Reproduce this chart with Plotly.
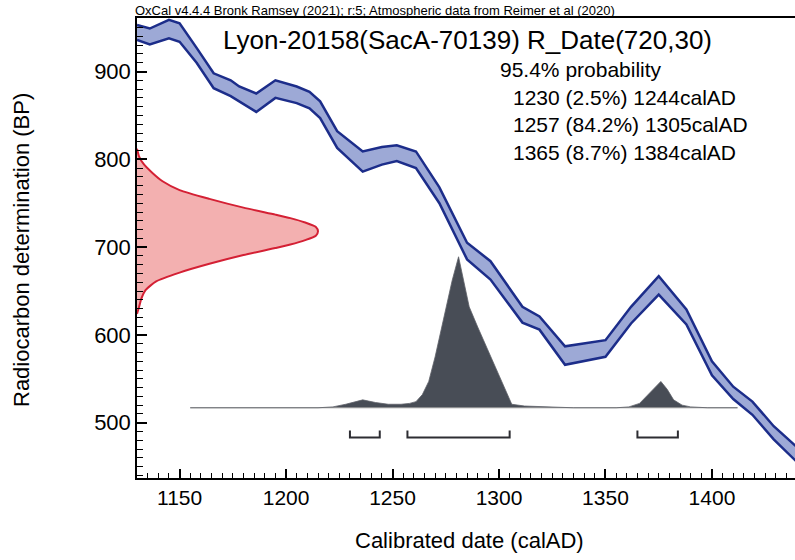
import plotly.graph_objects as go

# ---------------- data ----------------
# Calibration curve band (IntCal20), upper / lower edge in BP
curve_years = [1130, 1136, 1145, 1150, 1158, 1166, 1174, 1178, 1186, 1195,
               1205, 1211, 1216, 1224, 1236, 1245, 1252, 1261, 1272, 1285,
               1296, 1311, 1319, 1331, 1350, 1362, 1375, 1388, 1400, 1410,
               1419, 1429, 1440]
curve_upper = [953, 949, 959, 955, 927, 898, 890, 883, 875, 890,
               883, 877, 866, 832, 809, 814, 816, 809, 768, 705,
               684, 632, 621, 587, 594, 632, 667, 629, 570, 541,
               524, 496, 472]
curve_lower = [936, 931, 938, 934, 910, 881, 872, 866, 854, 870,
               864, 858, 847, 813, 786, 794, 798, 790, 750, 686,
               663, 614, 606, 566, 575, 613, 646, 612, 554, 527,
               509, 481, 455]

# Radiocarbon measurement likelihood (red), width in years from the axis
lik_bp = [812, 803, 795, 785, 775, 765, 755, 745, 737, 733, 728, 723, 718,
          713, 708, 703, 699, 691, 681, 671, 661, 651, 641, 632, 624]
lik_width = [0, 1, 3, 7, 12, 20, 34, 50, 65, 72, 79, 84, 85,
             84, 79, 72, 65, 50, 34, 20, 9, 4, 2, 1, 0]

# Calibrated distribution (grey), height in BP units above baseline
post_years = [1155, 1215, 1222, 1228, 1236, 1242, 1248, 1254, 1258, 1261,
              1264, 1267, 1270, 1274, 1278, 1281, 1283, 1286, 1290, 1294,
              1298, 1302, 1306, 1312, 1320, 1335, 1355, 1361, 1366, 1371,
              1376, 1379, 1382, 1386, 1390, 1398, 1412]
post_height = [0, 0, 1, 4, 9, 6, 4, 4, 5, 7,
               15, 30, 58, 100, 145, 172, 150, 115, 92, 70,
               47, 24, 4, 2, 1, 0, 0, 1, 5, 18,
               30, 21, 9, 3, 1, 0, 0]
post_baseline = 517

# 95.4% ranges
range_from = [1230, 1257, 1365]
range_to = [1244, 1305, 1384]
range_pct = ["2.5", "84.2", "8.7"]
bracket_top = 491
bracket_bottom = 483

x_range = [1130, 1439]
y_range = [437, 961]
x_ticks = [1150, 1200, 1250, 1300, 1350, 1400]
y_ticks = [500, 600, 700, 800, 900]

# ---------------- figure ----------------
NAVY = "rgb(28,45,138)"
BAND = "rgba(152,164,212,0.95)"
RED_LINE = "rgb(212,32,52)"
RED_FILL = "rgb(243,176,176)"
GREY = "rgb(72,77,86)"

fig = go.Figure()

# red likelihood
fig.add_trace(go.Scatter(
    x=[x_range[0] + w for w in lik_width], y=lik_bp,
    mode="lines", fill="toself", fillcolor=RED_FILL, line_shape="spline",
    line=dict(color=RED_LINE, width=2, smoothing=0.6), hoverinfo="skip"))

# calibrated distribution
fig.add_trace(go.Scatter(
    x=post_years, y=[post_baseline] * len(post_years),
    mode="lines", line=dict(color="rgb(150,150,150)", width=1), hoverinfo="skip"))
fig.add_trace(go.Scatter(
    x=post_years, y=[post_baseline + h for h in post_height],
    mode="lines", fill="tonexty", fillcolor=GREY,
    line=dict(color="rgb(95,98,105)", width=0.8), hoverinfo="skip"))

# calibration curve band
fig.add_trace(go.Scatter(
    x=curve_years, y=curve_lower, mode="lines",
    line=dict(color=NAVY, width=2.5), hoverinfo="skip"))
fig.add_trace(go.Scatter(
    x=curve_years, y=curve_upper, mode="lines", fill="tonexty",
    fillcolor=BAND, line=dict(color=NAVY, width=2.5), hoverinfo="skip"))

# range brackets
for a, b in zip(range_from, range_to):
    fig.add_trace(go.Scatter(
        x=[a, a, b, b], y=[bracket_top, bracket_bottom, bracket_bottom, bracket_top],
        mode="lines", line=dict(color="rgb(45,45,50)", width=2), hoverinfo="skip"))

# ---------------- layout ----------------
W, H = 795, 560
L, T, R, B = 137, 18, 0, 82
PW, PH = W - L - R, H - T - B


def px(xp):  # window pixel -> paper x
    return (xp - L) / PW


def py(yp):  # window pixel -> paper y
    return (T + PH - yp) / PH


FONT = "Liberation Sans, Arial, Helvetica, sans-serif"

annotations = [
    dict(text="OxCal v4.4.4 Bronk Ramsey (2021); r:5; Atmospheric data from Reimer et al (2020)",
         x=px(133), y=py(10), xanchor="left", yanchor="middle", font=dict(size=13)),
    dict(text="Lyon-20158(SacA-70139) R_Date(720,30)",
         x=px(467), y=py(40), xanchor="center", yanchor="middle", font=dict(size=26)),
    dict(text="95.4% probability",
         x=px(581), y=py(69), xanchor="center", yanchor="middle", font=dict(size=21)),
    dict(text="Calibrated date (calAD)",
         x=px(469), y=py(540), xanchor="center", yanchor="middle", font=dict(size=22)),
    dict(text="Radiocarbon determination (BP)", textangle=-90,
         x=px(21), y=py(250), xanchor="center", yanchor="middle", font=dict(size=22)),
]
line_y = [97, 124, 152]
for a, p, b, yy in zip(range_from, range_pct, range_to, line_y):
    annotations.append(dict(text=f"{a} ({p}%) {b}calAD", x=px(511), y=py(yy),
                            xanchor="left", yanchor="middle", font=dict(size=21)))
for an in annotations:
    an.update(xref="paper", yref="paper", showarrow=False)

fig.update_layout(
    width=W, height=H, margin=dict(l=L, r=R, t=T, b=B, pad=0),
    plot_bgcolor="white", paper_bgcolor="white", showlegend=False,
    font=dict(family=FONT, color="black"),
    annotations=annotations,
    xaxis=dict(range=x_range, tickmode="array", tickvals=x_ticks,
               ticks="inside", ticklen=9, tickwidth=1.5, tickcolor="black",
               showline=True, linecolor="black", linewidth=1.5, mirror=True,
               showgrid=False, zeroline=False, tickfont=dict(size=21),
               ticklabelstandoff=0,
               minor=dict(dtick=5, tick0=1130, ticks="inside", ticklen=5,
                          tickwidth=1, tickcolor="black", showgrid=False)),
    yaxis=dict(range=y_range, tickmode="array", tickvals=y_ticks,
               ticks="inside", ticklen=10, tickwidth=1.5, tickcolor="black",
               showline=True, linecolor="black", linewidth=1.5,
               showgrid=False, zeroline=False, tickfont=dict(size=22),
               ticklabelstandoff=0,
               minor=dict(dtick=10, tick0=440, ticks="inside", ticklen=6,
                          tickwidth=1, tickcolor="black", showgrid=False)),
)

# remove the default 8px page margin so the figure sits at the window's corner
fig.write_html("out.html", config={"displayModeBar": False},
               post_script="document.body.style.margin='0px';document.body.style.overflow='hidden';")
